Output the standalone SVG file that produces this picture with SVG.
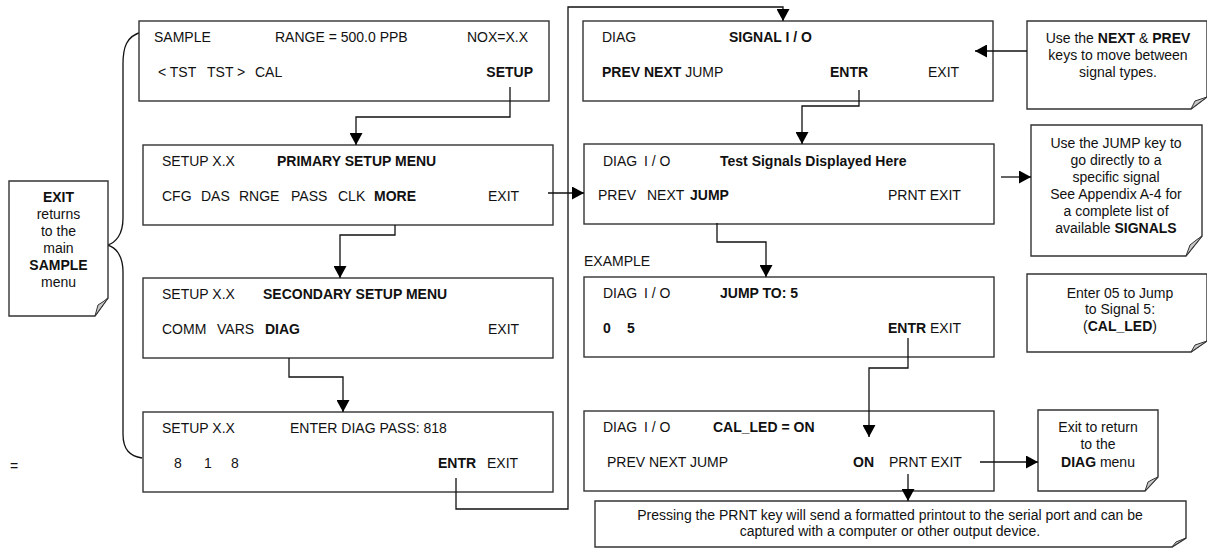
<svg xmlns="http://www.w3.org/2000/svg" width="1207" height="548" viewBox="0 0 1207 548">
<style>
.box{fill:#fff;stroke:#333;stroke-width:1.4}
.note{fill:#fff;stroke:#333;stroke-width:1.4}
.curl{fill:#c8c8c8;stroke:#333;stroke-width:1}
.ln{fill:none;stroke:#111;stroke-width:1.3}
text{font-family:"Liberation Sans",Arial,sans-serif;font-size:14px;fill:#111}
.b{font-weight:bold}
.c{text-anchor:middle}
.e{text-anchor:end}
</style>
<defs>
<marker id="ah" markerUnits="userSpaceOnUse" markerWidth="13" markerHeight="13" refX="12" refY="6.5" orient="auto">
<path d="M0,0 L12,6.5 L0,13 Z" fill="#000"/>
</marker>
</defs>
<rect width="1207" height="548" fill="#fff"/>

<g id="bracket">
<path class="ln" d="M142,32 C126,36 123,48 123,64 V218 C123,234 116,243 107,245 C116,247 123,256 123,272 V434 C123,450 130,456 142,458"/>
</g>

<g id="note-exit">
<path class="note" d="M9,181 H108 V298 L95,316 H9 Z"/>
<path class="curl" d="M95,316 L98,305 Q103,302 108,298 Z"/>
<text class="c b" x="58.5" y="202">EXIT</text>
<text class="c" x="58.5" y="219">returns</text>
<text class="c" x="58.5" y="236">to the</text>
<text class="c" x="58.5" y="253">main</text>
<text class="c b" x="58.5" y="270">SAMPLE</text>
<text class="c" x="58.5" y="287">menu</text>
</g>

<text x="10" y="471">=</text>

<g id="box-sample">
<rect class="box" x="139" y="21" width="410" height="80"/>
<text x="154" y="42">SAMPLE</text>
<text x="275" y="42">RANGE = 500.0 PPB</text>
<text x="467" y="42">NOX=X.X</text>
<text y="77"><tspan x="158">&lt; TST</tspan><tspan x="207">TST &gt;</tspan><tspan x="255">CAL</tspan></text>
<text class="b e" x="533" y="77">SETUP</text>
</g>

<g id="box-primary">
<rect class="box" x="143" y="145" width="410" height="80"/>
<text x="162" y="166">SETUP X.X</text>
<text class="b" x="277" y="166">PRIMARY SETUP MENU</text>
<text x="162" y="201">CFG</text>
<text x="201" y="201">DAS</text>
<text x="239" y="201">RNGE</text>
<text x="291" y="201">PASS</text>
<text x="338" y="201">CLK</text>
<text class="b" x="374" y="201">MORE</text>
<text x="488" y="201">EXIT</text>
</g>

<g id="box-secondary">
<rect class="box" x="143" y="278" width="410" height="80"/>
<text x="162" y="299">SETUP X.X</text>
<text class="b" x="263" y="299">SECONDARY SETUP MENU</text>
<text x="162" y="334">COMM</text>
<text x="217" y="334">VARS</text>
<text class="b" x="265" y="334">DIAG</text>
<text x="488" y="334">EXIT</text>
</g>

<g id="box-pass">
<rect class="box" x="143" y="412" width="410" height="80"/>
<text x="162" y="433">SETUP X.X</text>
<text x="290" y="433">ENTER DIAG PASS: 818</text>
<text x="174" y="468">8</text>
<text x="204" y="468">1</text>
<text x="231" y="468">8</text>
<text class="b" x="438" y="468">ENTR</text>
<text x="487" y="468">EXIT</text>
</g>

<g id="box-signal">
<rect class="box" x="583" y="21" width="410" height="80"/>
<text x="602" y="42">DIAG</text>
<text class="b" x="729" y="42">SIGNAL I / O</text>
<text x="602" y="77"><tspan class="b">PREV NEXT</tspan> JUMP</text>
<text class="b" x="830" y="77">ENTR</text>
<text x="928" y="77">EXIT</text>
</g>

<g id="box-test">
<rect class="box" x="584" y="144" width="410" height="80"/>
<text x="603" y="166">DIAG</text>
<text x="644" y="166">I / O</text>
<text class="b" x="720" y="166">Test Signals Displayed Here</text>
<text x="598" y="200">PREV</text>
<text x="647" y="200">NEXT</text>
<text class="b" x="690" y="200">JUMP</text>
<text x="888" y="200">PRNT EXIT</text>
</g>

<text x="584" y="266">EXAMPLE</text>

<g id="box-jump">
<rect class="box" x="584" y="277" width="410" height="80"/>
<text x="603" y="298">DIAG</text>
<text x="644" y="298">I / O</text>
<text class="b" x="720" y="298">JUMP TO: 5</text>
<text class="b" x="603" y="333">0</text>
<text class="b" x="627" y="333">5</text>
<text x="888" y="333"><tspan class="b">ENTR</tspan> EXIT</text>
</g>

<g id="box-called">
<rect class="box" x="584" y="411" width="410" height="80"/>
<text x="603" y="432">DIAG</text>
<text x="644" y="432">I / O</text>
<text class="b" x="713" y="432">CAL_LED = ON</text>
<text x="607" y="467">PREV NEXT JUMP</text>
<text class="b" x="853" y="467">ON</text>
<text x="889" y="467">PRNT EXIT</text>
</g>

<g id="note-nextprev">
<path class="note" d="M1027,21 H1207 V97 L1191,109 H1027 Z"/>
<path class="curl" d="M1191,109 L1195,101 Q1201,99 1207,97 Z"/>
<text class="c" x="1118" y="43">Use the <tspan class="b">NEXT</tspan> &amp; <tspan class="b">PREV</tspan></text>
<text class="c" x="1118" y="60">keys to move between</text>
<text class="c" x="1118" y="77">signal types.</text>
</g>

<g id="note-jump">
<path class="note" d="M1031,125 H1202 V236 L1186,256 H1031 Z"/>
<path class="curl" d="M1186,256 L1190,245 Q1196,240 1202,236 Z"/>
<text class="c" x="1116" y="148">Use the JUMP key to</text>
<text class="c" x="1116" y="165">go directly to a</text>
<text class="c" x="1116" y="182">specific signal</text>
<text class="c" x="1116" y="199">See Appendix A-4 for</text>
<text class="c" x="1116" y="216">a complete list of</text>
<text class="c" x="1116" y="233">available <tspan class="b">SIGNALS</tspan></text>
</g>

<g id="note-enter05">
<path class="note" d="M1027,274 H1207 V341 L1191,352 H1027 Z"/>
<path class="curl" d="M1191,352 L1195,345 Q1201,343 1207,341 Z"/>
<text class="c" x="1120" y="298">Enter 05 to Jump</text>
<text class="c" x="1120" y="314">to Signal 5:</text>
<text class="c" x="1120" y="331">(<tspan class="b">CAL_LED</tspan>)</text>
</g>

<g id="note-exitdiag">
<path class="note" d="M1038,410 H1158 V477 L1145,491 H1038 Z"/>
<path class="curl" d="M1145,491 L1148,482 Q1153,479 1158,477 Z"/>
<text class="c" x="1098" y="432">Exit to return</text>
<text class="c" x="1098" y="449">to the</text>
<text class="c" x="1098" y="467"><tspan class="b">DIAG</tspan> menu</text>
</g>

<g id="note-prnt">
<path class="note" d="M595,501 H1186 V538 L1172,547 H595 Z"/>
<path class="curl" d="M1172,547 L1176,542 Q1181,540 1186,538 Z"/>
<text class="c" x="890" y="520">Pressing the PRNT key will send a formatted printout to the serial port and can be</text>
<text class="c" x="890" y="536">captured with a computer or other output device.</text>
</g>

<g id="connectors">
<path class="ln" d="M510,87 V117 H356 V145" marker-end="url(#ah)"/>
<path class="ln" d="M395,225 V235 H340 V278" marker-end="url(#ah)"/>
<path class="ln" d="M289,358 V377 H343 V412" marker-end="url(#ah)"/>
<path class="ln" d="M456,478 V509 H568 V7 H783 V21" marker-end="url(#ah)"/>
<path class="ln" d="M548,193 H584" marker-end="url(#ah)"/>
<path class="ln" d="M859,90 V106 H802 V144" marker-end="url(#ah)"/>
<path class="ln" d="M1027,51 H975" marker-end="url(#ah)"/>
<path class="ln" d="M1001,177 H1031" marker-end="url(#ah)"/>
<path class="ln" d="M717,223 V242 H766 V277" marker-end="url(#ah)"/>
<path class="ln" d="M908,338 V368 H869 V437" marker-end="url(#ah)"/>
<path class="ln" d="M980,462 H1038" marker-end="url(#ah)"/>
<path class="ln" d="M908,474 V501" marker-end="url(#ah)"/>
</g>
</svg>
